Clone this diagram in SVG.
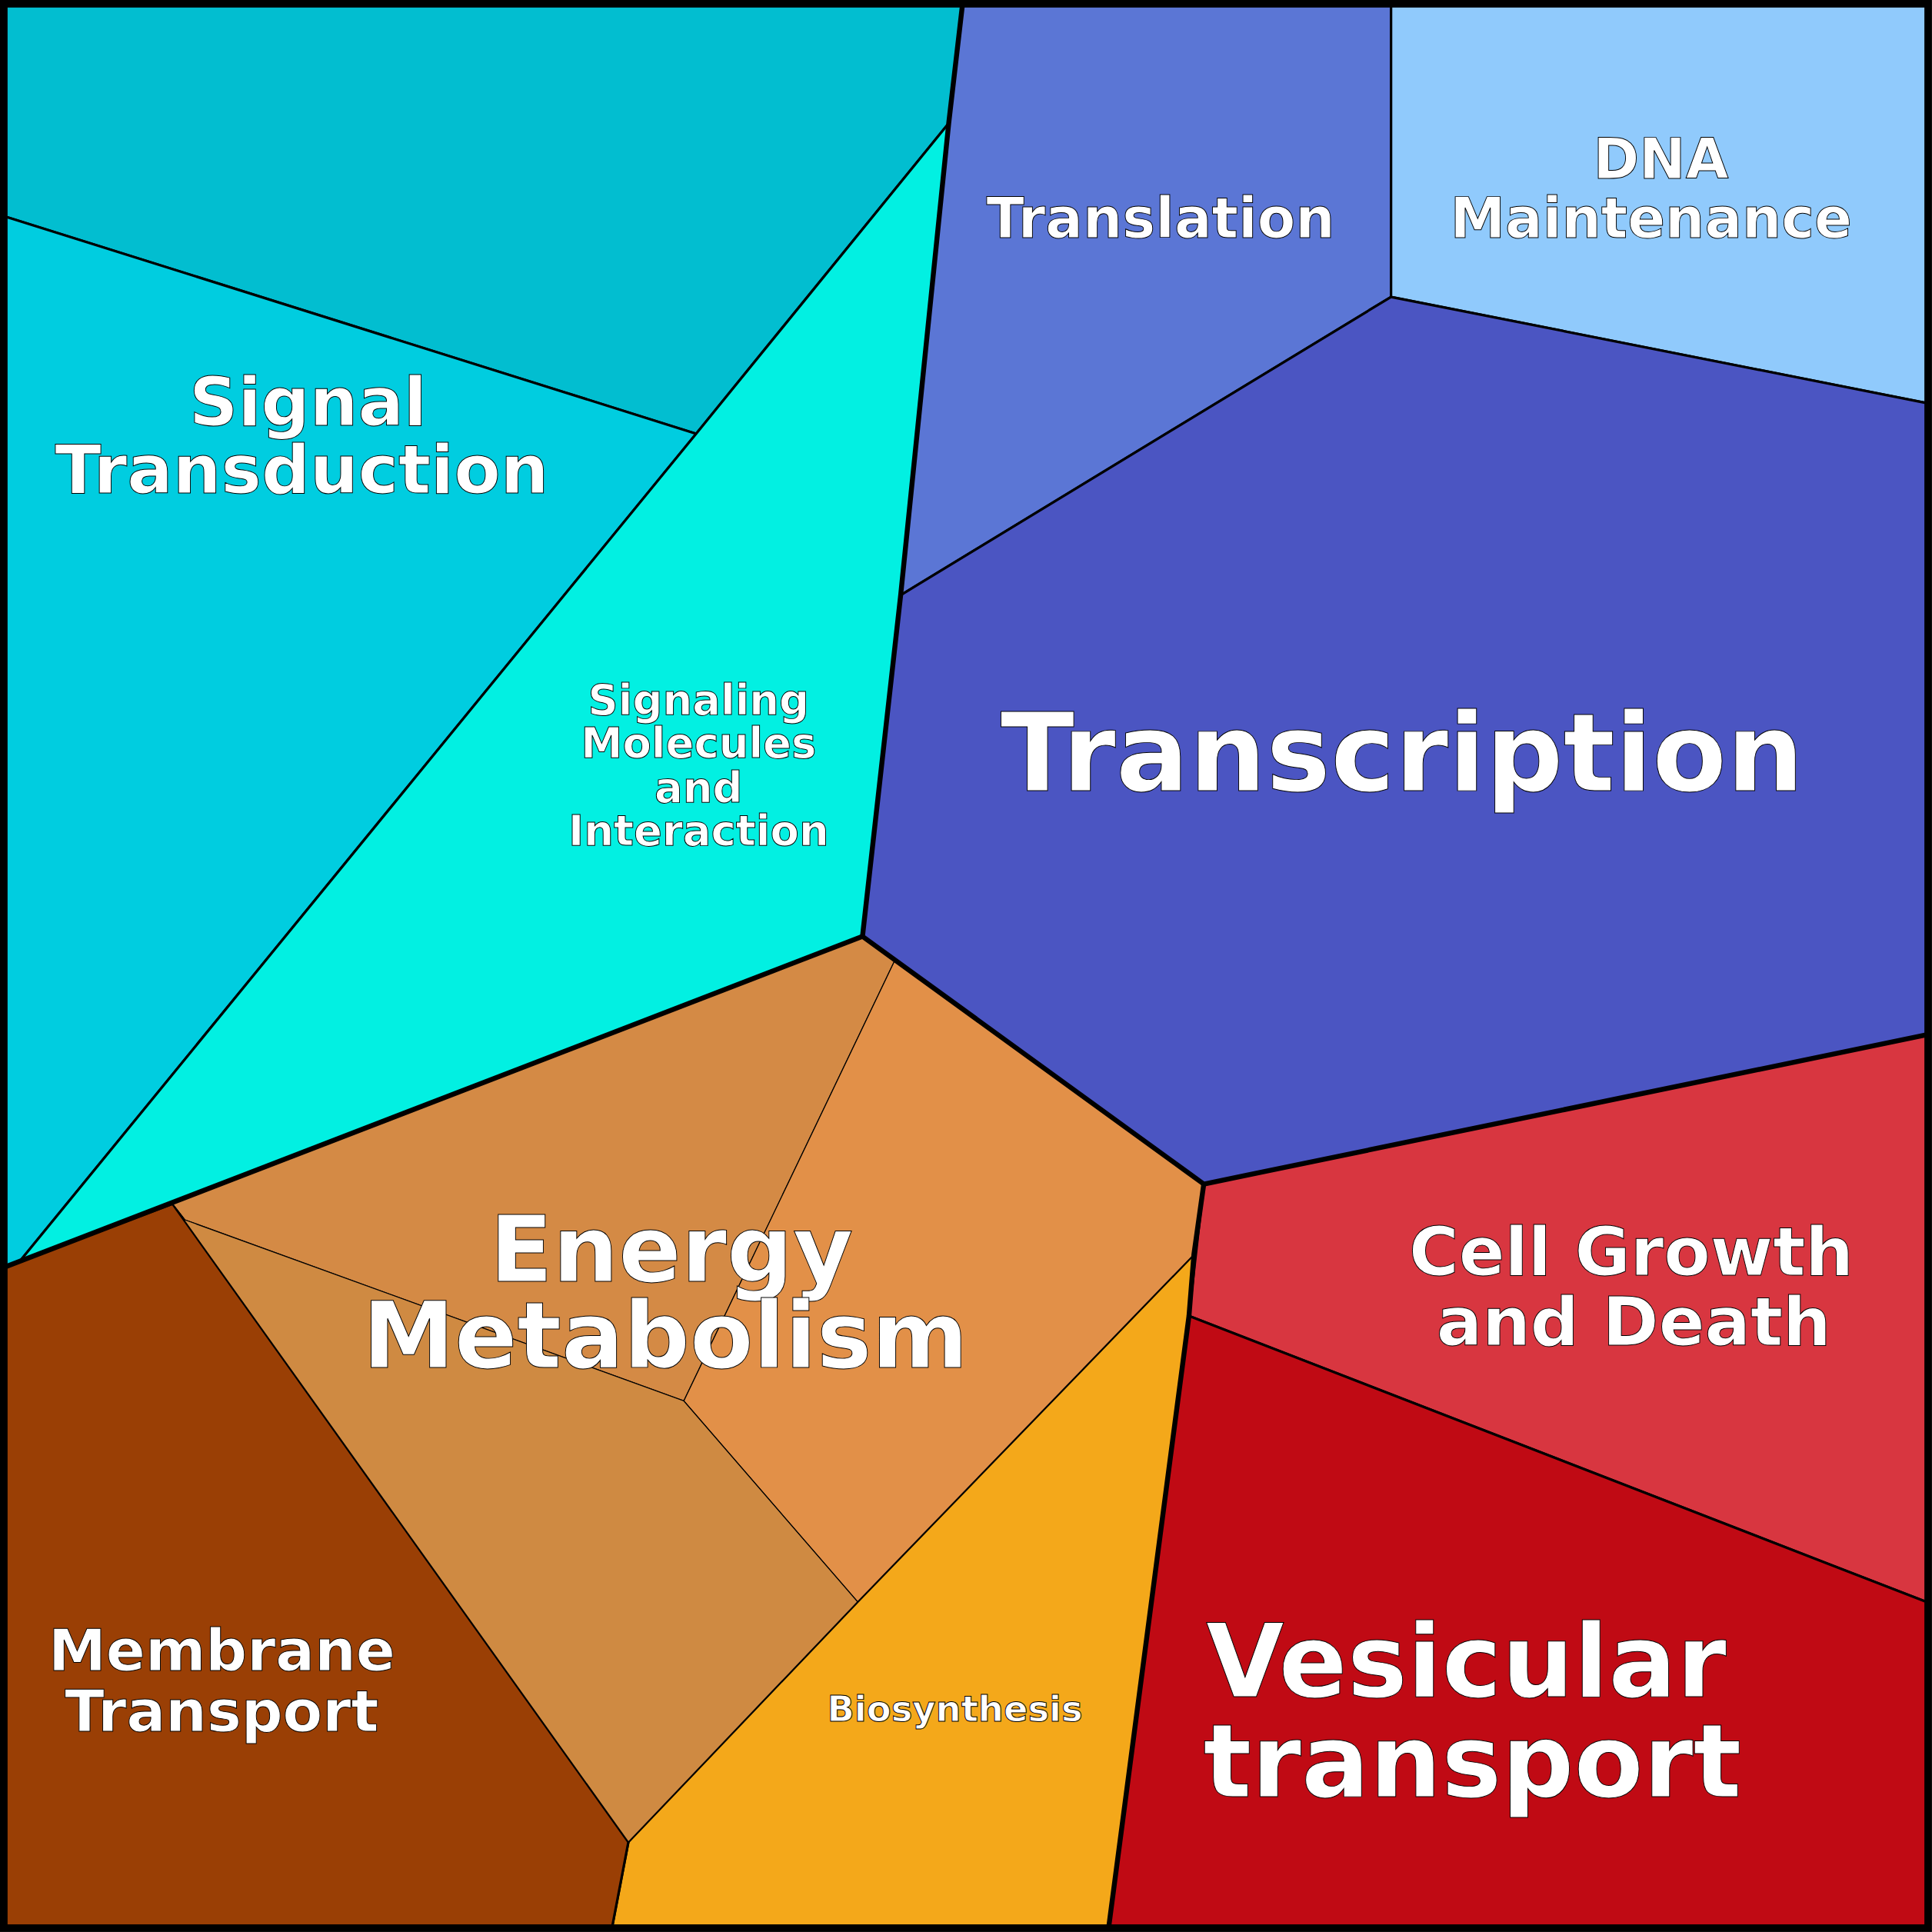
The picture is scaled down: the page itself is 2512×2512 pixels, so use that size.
<svg xmlns="http://www.w3.org/2000/svg" width="2512" height="2512" viewBox="0 0 2512 2512">
<style>
.c{stroke:#000;stroke-width:2;stroke-linejoin:round}
.e{stroke:#000;stroke-width:0.8}
.t{font-family:"DejaVu Sans",sans-serif;font-weight:bold;fill:#fff;stroke:#000;stroke-width:0.6;text-anchor:middle}
.thick{fill:none;stroke:#000;stroke-width:4;stroke-linejoin:round}
</style>
<g transform="scale(1.602)">
<g id="signal-top"><polygon class="c" fill="#02BED0" points="5,5 781,5 770,100 565,352 5,176"/></g>
<g id="signal-transduction"><polygon class="c" fill="#00CDE0" points="5,176 565,352 15,1025 5,1028"/>
<text class="t" font-size="55"><tspan x="250" y="345">Signal</tspan><tspan x="245" y="400">Transduction</tspan></text></g>
<g id="signaling-molecules"><polygon class="c" fill="#02F0E2" points="770,100 731,483 700,760 140,977 15,1025 565,352"/>
<text class="t" font-size="34"><tspan x="567" y="580">Signaling</tspan><tspan x="567" y="615">Molecules</tspan><tspan x="567" y="651">and</tspan><tspan x="567" y="686">Interaction</tspan></text></g>
<g id="translation"><polygon class="c" fill="#5B76D5" points="781,5 1129,5 1129,241 731,483 770,100"/>
<text class="t" font-size="45" x="942" y="193">Translation</text></g>
<g id="dna"><polygon class="c" fill="#90CAFC" points="1129,5 1563,5 1563,327 1129,241"/>
<text class="t" font-size="45"><tspan x="1348" y="145">DNA</tspan><tspan x="1340" y="193">Maintenance</tspan></text></g>
<g id="transcription"><polygon class="c" fill="#4B55C2" points="1129,241 1563,327 1563,840 977,961 700,760 731,483"/>
<text class="t" font-size="88" x="1138" y="642">Transcription</text></g>
<g id="cell-growth"><polygon class="c" fill="#D83640" points="977,961 1563,840 1563,1300 965,1068"/>
<text class="t" font-size="55"><tspan x="1324" y="1035">Cell Growth</tspan><tspan x="1326" y="1092">and Death</tspan></text></g>
<g id="vesicular"><polygon class="c" fill="#C00A14" points="965,1068 1563,1300 1563,1563 900,1563"/>
<text class="t" font-size="82"><tspan x="1190" y="1377">Vesicular</tspan><tspan x="1195" y="1458">transport</tspan></text></g>
<g id="biosynthesis"><polygon class="c" fill="#F4A81A" points="969,1018 965,1068 900,1563 497,1563 510,1495 696,1300"/>
<text class="t" font-size="29" x="775" y="1397">Biosynthesis</text></g>
<g id="membrane"><polygon class="c" fill="#9A3F05" points="5,1028 140,977 510,1495 497,1563 5,1563"/>
<text class="t" font-size="47"><tspan x="180" y="1356">Membrane</tspan><tspan x="180" y="1405">Transport</tspan></text></g>
<g id="energy">
<polygon class="e" fill="#D48A45" points="700,760 726,780 555,1137 150,990 140,977"/>
<polygon class="e" fill="#E29048" points="726,780 977,961 969,1018 696,1300 555,1137"/>
<polygon class="e" fill="#CF8A42" points="150,990 555,1137 696,1300 510,1495 140,977"/>
<text class="t" font-size="75"><tspan x="545" y="1040">Energy</tspan><tspan x="540" y="1110">Metabolism</tspan></text></g>
<g id="connectors">
<polyline class="thick" points="781,5 770,100 731,483 700,760 977,961 1563,840"/>
<polyline class="thick" points="700,760 5,1028"/>
<polyline class="thick" points="977,961 969,1018 965,1068 900,1563"/>
<rect x="3" y="3" width="1562" height="1562" fill="none" stroke="#000" stroke-width="6"/>
</g>
</g>
</svg>
